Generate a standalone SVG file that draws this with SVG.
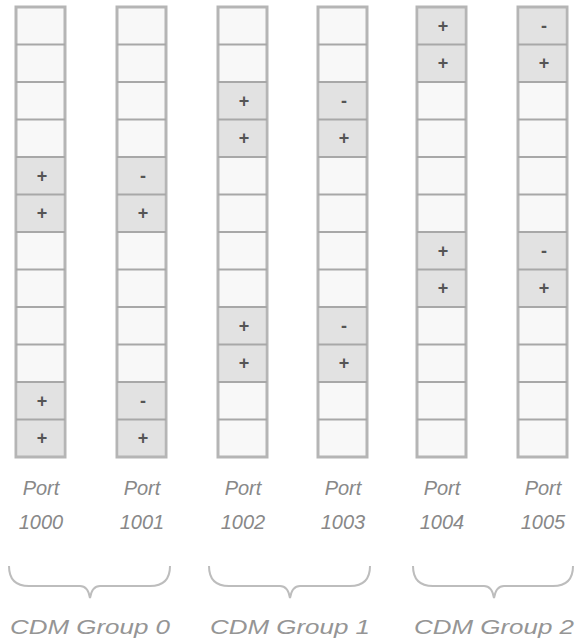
<svg xmlns="http://www.w3.org/2000/svg" width="580" height="644" viewBox="0 0 580 644">
<style>
.bg{fill:#f8f8f8}
.frame{fill:none;stroke:#b5b5b5;stroke-width:3}
.sep{stroke:#a8a8a8;stroke-width:2}
.on{fill:#e2e2e2}
.sym{font-family:"Liberation Sans",Arial,sans-serif;font-size:18px;font-weight:bold;fill:#555555;text-anchor:middle}
.lbl{font-family:"Liberation Sans",Arial,sans-serif;font-style:italic;font-size:20px;fill:#888888;text-anchor:middle}
.grp{font-family:"Liberation Sans",Arial,sans-serif;font-style:italic;font-size:21px;fill:#959595;text-anchor:middle}
.brace{fill:none;stroke:#bdbdbd;stroke-width:2}
</style>
<defs>
<rect id="bgr" class="bg" x="0" y="7" width="49" height="450"/>
<g id="grid">
<rect class="frame" x="0" y="7" width="49" height="450"/>
<g class="sep">
<line x1="0" y1="44.5" x2="49" y2="44.5"/>
<line x1="0" y1="82" x2="49" y2="82"/>
<line x1="0" y1="119.5" x2="49" y2="119.5"/>
<line x1="0" y1="157" x2="49" y2="157"/>
<line x1="0" y1="194.5" x2="49" y2="194.5"/>
<line x1="0" y1="232" x2="49" y2="232"/>
<line x1="0" y1="269.5" x2="49" y2="269.5"/>
<line x1="0" y1="307" x2="49" y2="307"/>
<line x1="0" y1="344.5" x2="49" y2="344.5"/>
<line x1="0" y1="382" x2="49" y2="382"/>
<line x1="0" y1="419.5" x2="49" y2="419.5"/>
</g>
</g>
</defs>

<g id="port1000" transform="translate(16,0)">
<use href="#bgr"/>
<rect class="on" x="2" y="158" width="45" height="73"/>
<rect class="on" x="2" y="383" width="45" height="73"/>
<use href="#grid"/>
<text class="sym" x="26" y="182">+</text>
<text class="sym" x="26" y="219">+</text>
<text class="sym" x="26" y="407">+</text>
<text class="sym" x="26" y="444">+</text>
<text class="lbl" x="25" y="495">Port</text>
<text class="lbl" x="25" y="529">1000</text>
</g>

<g id="port1001" transform="translate(117,0)">
<use href="#bgr"/>
<rect class="on" x="2" y="158" width="45" height="73"/>
<rect class="on" x="2" y="383" width="45" height="73"/>
<use href="#grid"/>
<text class="sym" x="26" y="182">-</text>
<text class="sym" x="26" y="219">+</text>
<text class="sym" x="26" y="407">-</text>
<text class="sym" x="26" y="444">+</text>
<text class="lbl" x="25" y="495">Port</text>
<text class="lbl" x="25" y="529">1001</text>
</g>

<g id="port1002" transform="translate(218,0)">
<use href="#bgr"/>
<rect class="on" x="2" y="83" width="45" height="73"/>
<rect class="on" x="2" y="308" width="45" height="73"/>
<use href="#grid"/>
<text class="sym" x="26" y="107">+</text>
<text class="sym" x="26" y="144">+</text>
<text class="sym" x="26" y="332">+</text>
<text class="sym" x="26" y="369">+</text>
<text class="lbl" x="25" y="495">Port</text>
<text class="lbl" x="25" y="529">1002</text>
</g>

<g id="port1003" transform="translate(318,0)">
<use href="#bgr"/>
<rect class="on" x="2" y="83" width="45" height="73"/>
<rect class="on" x="2" y="308" width="45" height="73"/>
<use href="#grid"/>
<text class="sym" x="26" y="107">-</text>
<text class="sym" x="26" y="144">+</text>
<text class="sym" x="26" y="332">-</text>
<text class="sym" x="26" y="369">+</text>
<text class="lbl" x="25" y="495">Port</text>
<text class="lbl" x="25" y="529">1003</text>
</g>

<g id="port1004" transform="translate(417,0)">
<use href="#bgr"/>
<rect class="on" x="2" y="8" width="45" height="73"/>
<rect class="on" x="2" y="233" width="45" height="73"/>
<use href="#grid"/>
<text class="sym" x="26" y="32">+</text>
<text class="sym" x="26" y="69">+</text>
<text class="sym" x="26" y="257">+</text>
<text class="sym" x="26" y="294">+</text>
<text class="lbl" x="25" y="495">Port</text>
<text class="lbl" x="25" y="529">1004</text>
</g>

<g id="port1005" transform="translate(518,0)">
<use href="#bgr"/>
<rect class="on" x="2" y="8" width="45" height="73"/>
<rect class="on" x="2" y="233" width="45" height="73"/>
<use href="#grid"/>
<text class="sym" x="26" y="32">-</text>
<text class="sym" x="26" y="69">+</text>
<text class="sym" x="26" y="257">-</text>
<text class="sym" x="26" y="294">+</text>
<text class="lbl" x="25" y="495">Port</text>
<text class="lbl" x="25" y="529">1005</text>
</g>

<g id="connectors">
<path class="brace" d="M9,566 Q9,586 29,586 L80,586 Q88,586 90,598 Q92,586 100,586 L150,586 Q170,586 170,566"/>
<path class="brace" d="M209,566 Q209,586 229,586 L280,586 Q288,586 290,598 Q292,586 300,586 L350,586 Q370,586 370,566"/>
<path class="brace" d="M413,566 Q413,586 433,586 L484,586 Q492,586 494,598 Q496,586 504,586 L553,586 Q573,586 573,566"/>
</g>

<g id="group0"><text class="grp" x="90" y="634" textLength="160" lengthAdjust="spacingAndGlyphs">CDM Group 0</text></g>
<g id="group1"><text class="grp" x="290" y="634" textLength="160" lengthAdjust="spacingAndGlyphs">CDM Group 1</text></g>
<g id="group2"><text class="grp" x="494" y="634" textLength="160" lengthAdjust="spacingAndGlyphs">CDM Group 2</text></g>
</svg>
